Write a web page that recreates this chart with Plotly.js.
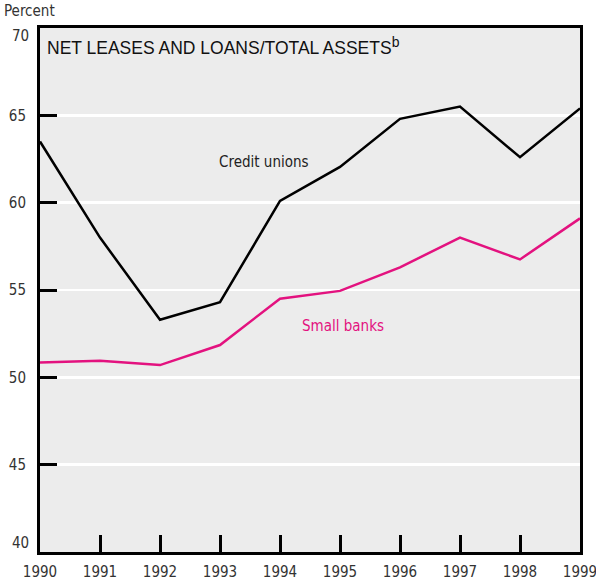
<!DOCTYPE html>
<html>
<head>
<meta charset="utf-8">
<script src="https://cdn.plot.ly/plotly-3.0.1.min.js"></script>
<style>html,body{margin:0;padding:0;background:#fff;}#chart{width:596px;height:584px;}</style>
</head>
<body>
<div id="chart"></div>
<script>
var years = [1990, 1991, 1992, 1993, 1994, 1995, 1996, 1997, 1998, 1999];
var creditUnions = [63.5, 58.0, 53.3, 54.3, 60.1, 62.05, 64.8, 65.5, 62.6, 65.4];
var smallBanks = [50.85, 50.95, 50.7, 51.85, 54.5, 54.95, 56.3, 58.0, 56.75, 59.1];
var yTicks = [45, 50, 55, 60, 65];
var yEndTicks = [40, 70];
var xTickLabels = ['1990','1991','1992','1993','1994','1995','1996','1997','1998','1999'];

var narrow = '"DejaVu Sans Condensed", "Roboto", sans-serif';
var pink = '#e3127f';

var traces = [
  {x: years, y: creditUnions, mode: 'lines', line: {color: '#000', width: 2.5}, hoverinfo: 'none'},
  {x: years, y: smallBanks, mode: 'lines', line: {color: pink, width: 2.5}, hoverinfo: 'none'}
];

var annotations = [
  {xref: 'paper', yref: 'paper', x: 0, y: 1, xanchor: 'left', yanchor: 'top', xshift: 5, yshift: -4,
   text: 'NET LEASES AND LOANS/TOTAL ASSETS<sup><span style="font-size:14px">b</span></sup>', showarrow: false,
   font: {family: '"Liberation Sans", Arial, sans-serif', size: 17.5, color: '#111'}},
  {xref: 'paper', yref: 'paper', x: 0, y: 1, xanchor: 'left', yanchor: 'bottom', xshift: -38, yshift: 6,
   text: 'Percent', showarrow: false, font: {family: narrow, size: 15, color: '#333'}},
  {xref: 'x', yref: 'y', x: 1993.73, y: 62.33, text: 'Credit unions', showarrow: false,
   font: {family: narrow, size: 15, color: '#222'}},
  {xref: 'x', yref: 'y', x: 1995.05, y: 52.93, text: 'Small banks', showarrow: false,
   font: {family: narrow, size: 15, color: pink}}
];
yEndTicks.forEach(function (v) {
  annotations.push({xref: 'paper', yref: 'y', x: 0, y: v, xanchor: 'right', yanchor: 'middle',
    xshift: -9, yshift: v === 70 ? -8 : 9, text: String(v), showarrow: false,
    font: {family: narrow, size: 15, color: '#333'}});
});

var layout = {
  width: 596, height: 584,
  margin: {l: 40, r: 16, t: 28, b: 32},
  paper_bgcolor: '#fff',
  plot_bgcolor: '#ececec',
  showlegend: false,
  xaxis: {
    range: [1990, 1999], tickvals: years, ticktext: xTickLabels,
    ticks: 'inside', ticklen: 17, tickwidth: 3, tickcolor: '#000',
    showgrid: false, zeroline: false,
    showline: true, linecolor: '#000', linewidth: 3, mirror: true,
    tickfont: {family: narrow, size: 15, color: '#333'}, ticklabelstandoff: 4,
    ticklabeloverflow: 'allow'
  },
  yaxis: {
    range: [40, 70], tickvals: yTicks,
    ticks: 'inside', ticklen: 17, tickwidth: 3, tickcolor: '#000',
    showgrid: true, gridcolor: '#fff', gridwidth: 2.5, zeroline: false,
    showline: true, linecolor: '#000', linewidth: 3, mirror: true,
    tickfont: {family: narrow, size: 15, color: '#333'}, ticklabelstandoff: 8
  },
  annotations: annotations
};

Plotly.newPlot('chart', traces, layout, {staticPlot: true, displayModeBar: false});
</script>
</body>
</html>
